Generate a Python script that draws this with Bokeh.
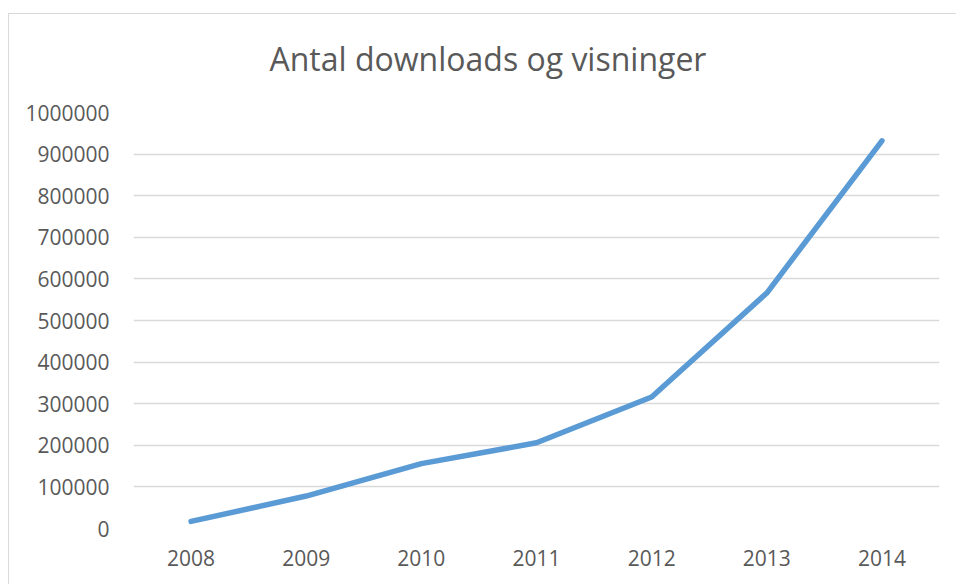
from bokeh.plotting import figure
from bokeh.embed import file_html
from bokeh.resources import INLINE
from bokeh.models import FactorRange, Range1d, SingleIntervalTicker, BasicTickFormatter, Title

years = ["2008", "2009", "2010", "2011", "2012", "2013", "2014"]
views = [17000, 78000, 156000, 206000, 316000, 566000, 932000]

title_text = "Antal downloads og visninger"

p = figure(width=956, height=584, output_backend="svg", toolbar_location=None,
           x_range=FactorRange(factors=years), y_range=Range1d(0, 1000000),
           min_border_left=133, min_border_right=17, min_border_top=112, min_border_bottom=56)
p.title = None
p.add_layout(Title(text=title_text, align="left", offset=136, text_font="Open Sans",
                   text_font_size="32px", text_font_style="normal", text_color="#595959",
                   standoff=66), "above")

p.line(x=years, y=views, line_color="#5b9bd5", line_width=5.5, line_cap="round", line_join="round")

p.outline_line_color = None
p.background_fill_color = "white"
p.border_fill_alpha = 0

# chart-area border (light grey, top and left edges visible in the window)
p.styles = {
    "background-color": "white",
    "background-image": "linear-gradient(#d9d9d9, #d9d9d9), linear-gradient(#d9d9d9, #d9d9d9)",
    "background-size": "1px 100%, 100% 1px",
    "background-position": "8px 13px, 8px 13px",
    "background-repeat": "no-repeat",
}

p.xgrid.grid_line_color = None
p.ygrid.grid_line_color = "#d9d9d9"
p.ygrid.grid_line_width = 1.5
p.yaxis.ticker = SingleIntervalTicker(interval=100000)
p.yaxis.formatter = BasicTickFormatter(use_scientific=False)

for ax in (p.xaxis, p.yaxis):
    ax.axis_line_color = None
    ax.major_tick_line_color = None
    ax.minor_tick_line_color = None
    ax.major_tick_out = 0
    ax.major_tick_in = 0
    ax.major_label_text_font = "Open Sans"
    ax.major_label_text_font_size = "21px"
    ax.major_label_text_color = "#595959"
p.yaxis.major_label_standoff = 20
p.xaxis.major_label_standoff = 21

open("out.html", "w").write(file_html(p, INLINE))
